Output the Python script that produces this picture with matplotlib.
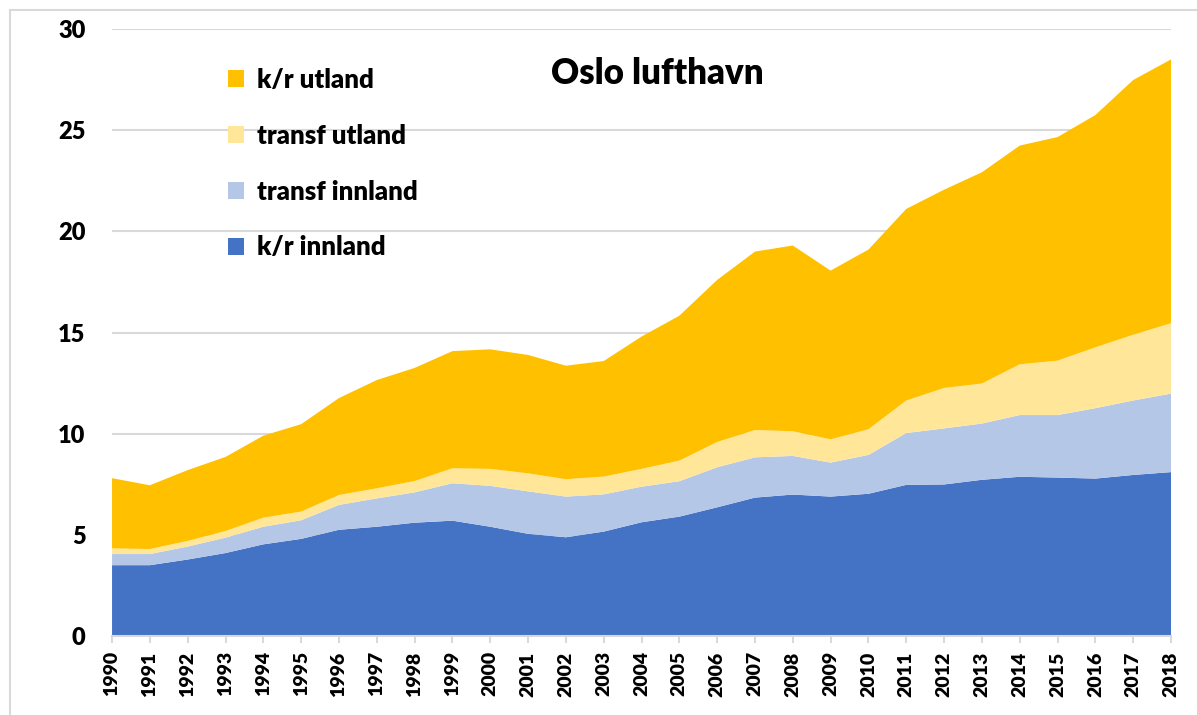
import numpy as np
import matplotlib.pyplot as plt
from matplotlib.patches import Rectangle

plt.rcParams['font.family'] = ['Lato', 'DejaVu Sans']

# ========== data (millions of passengers) ==========
years = list(range(1990, 2019))

kr_innland = [3.50, 3.50, 3.78, 4.10, 4.53, 4.80, 5.25, 5.40, 5.60, 5.70,
              5.40, 5.05, 4.88, 5.16, 5.62, 5.90, 6.36, 6.84, 6.99, 6.89,
              7.03, 7.47, 7.49, 7.72, 7.87, 7.83, 7.78, 7.96, 8.10]
transf_innland = [0.55, 0.55, 0.64, 0.76, 0.87, 0.92, 1.23, 1.40, 1.50, 1.85,
                  2.02, 2.10, 2.01, 1.84, 1.76, 1.75, 1.98, 1.99, 1.91, 1.68,
                  1.92, 2.56, 2.77, 2.78, 3.05, 3.09, 3.48, 3.68, 3.88]
transf_utland = [0.28, 0.25, 0.28, 0.33, 0.45, 0.43, 0.49, 0.50, 0.56, 0.74,
                 0.84, 0.89, 0.86, 0.88, 0.88, 1.02, 1.25, 1.35, 1.22, 1.15,
                 1.27, 1.61, 2.00, 1.98, 2.51, 2.69, 3.01, 3.25, 3.48]
kr_utland = [3.47, 3.15, 3.50, 3.66, 4.05, 4.32, 4.79, 5.35, 5.59, 5.79,
             5.91, 5.85, 5.61, 5.71, 6.54, 7.16, 8.01, 8.82, 9.18, 8.34,
             8.88, 9.47, 9.80, 10.44, 10.81, 11.05, 11.48, 12.59, 13.04]

labels = ['k/r innland', 'transf innland', 'transf utland', 'k/r utland']
colors = ['#4472C4', '#B4C7E7', '#FFE699', '#FFC000']

# ========== figure ==========
fig = plt.figure(figsize=(11.97, 7.15), dpi=100)
ax = fig.add_axes([0.0936, 0.1105, 0.8847, 0.8489])

# thin grey border round the whole chart, like the spreadsheet chart area
fig.patches.append(Rectangle((10 / 1197, -0.01), 1.2, 1 - 10 / 715 + 0.01,
                             transform=fig.transFigure, fill=False,
                             edgecolor='#D9D9D9', linewidth=1.5))

polys = ax.stackplot(years, kr_innland, transf_innland, transf_utland, kr_utland,
                     colors=colors, labels=labels, linewidth=0, zorder=2)

ax.set_xlim(1990, 2018)
ax.set_ylim(0, 30)
ax.set_yticks(range(0, 31, 5))
ax.set_xticks(years)
ax.set_xticklabels([str(y) for y in years], rotation=90)

ax.grid(axis='y', color='#D9D9D9', linewidth=1.5, zorder=0)
ax.set_axisbelow(True)
for s in ['top', 'right', 'left']:
    ax.spines[s].set_visible(False)
ax.spines['bottom'].set_color('#D9D9D9')
ax.spines['bottom'].set_linewidth(1.5)

ax.tick_params(axis='y', length=0, pad=19, labelsize=17)
ax.tick_params(axis='x', length=5, width=1.5, color='#D9D9D9', pad=6, labelsize=14)
for t in ax.get_xticklabels() + ax.get_yticklabels():
    t.set_fontweight('heavy')

ax.text(0.515, 0.927, 'Oslo lufthavn', transform=ax.transAxes, ha='center',
        va='center', fontsize=25, fontweight='heavy')

leg = ax.legend(handles=polys[::-1], labels=labels[::-1], loc='upper left',
                bbox_to_anchor=(0.0996, 0.953), frameon=False, fontsize=18.5,
                handlelength=0.63, handleheight=0.63, handletextpad=0.5,
                labelspacing=1.24, borderaxespad=0)
for t in leg.get_texts():
    t.set_fontweight('heavy')

fig.savefig('out.png', dpi=100)
